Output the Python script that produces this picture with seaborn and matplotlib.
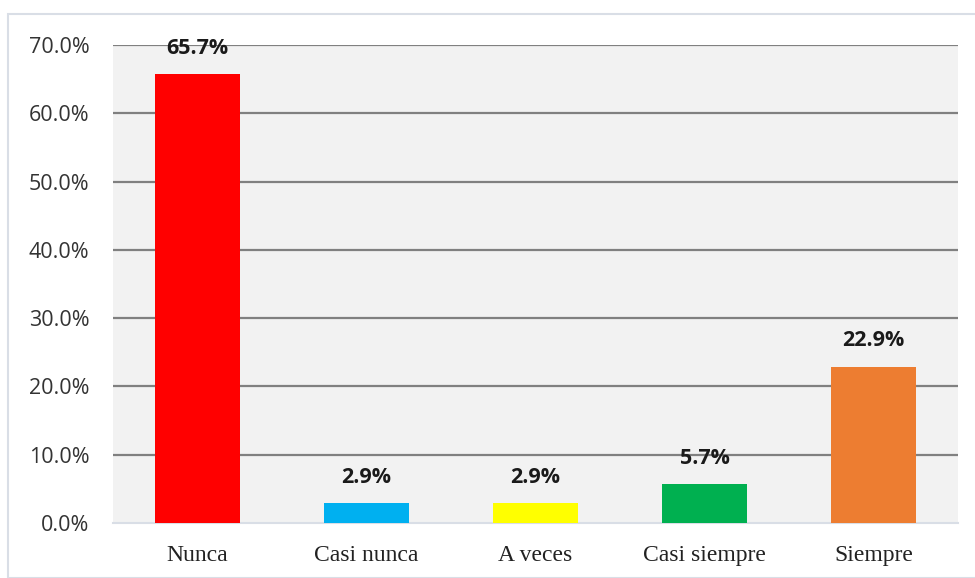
import matplotlib
matplotlib.use("Agg")
import matplotlib.pyplot as plt
import seaborn as sns
import pandas as pd
from matplotlib.patches import Rectangle

# datos
categorias = ["Nunca", "Casi nunca", "A veces", "Casi siempre", "Siempre"]
porcentajes = [0.657, 0.029, 0.029, 0.057, 0.229]
etiquetas = ["65.7%", "2.9%", "2.9%", "5.7%", "22.9%"]
colores = ["#FF0000", "#00B0F0", "#FFFF00", "#00B050", "#ED7D31"]
ticks_y = [0.0, 0.1, 0.2, 0.3, 0.4, 0.5, 0.6, 0.7]

df = pd.DataFrame({"cat": categorias, "pct": porcentajes})

sns.set_style("white")
fig = plt.figure(figsize=(9.75, 5.78), dpi=100)
# marco exterior (detras de los ejes)
marco = Rectangle((8 / 975, 0), 1, 1 - 14 / 578, transform=fig.transFigure,
                  facecolor="white", edgecolor="#D9DEE6", linewidth=1.5, zorder=-5)
fig.add_artist(marco)
ax = fig.add_axes([113 / 975, 1 - 523 / 578, 845 / 975, 478 / 578])
ax.set_facecolor("#F2F2F2")

sns.barplot(data=df, x="cat", y="pct", hue="cat", palette=colores, legend=False,
            width=0.5, ax=ax, zorder=3, saturation=1, linewidth=0)

for i, (v, t) in enumerate(zip(porcentajes, etiquetas)):
    ax.annotate(t, (i, v), xytext=(0, 18.5), textcoords="offset points", ha="center",
                va="center", fontsize=15.5, fontweight="bold", family="Open Sans", color="#1a1a1a",
                zorder=5)

ax.set_ylim(0, 0.7)
ax.set_xlim(-0.5, 4.5)
ax.set_yticks(ticks_y)
ax.set_yticklabels([f"{t * 100:.1f}%" for t in ticks_y], family="Open Sans", fontsize=15.5,
                   color="#333333")
ax.set_xticks(range(len(categorias)))
ax.set_xticklabels(categorias, family="Liberation Serif", fontsize=17, color="#222222")
ax.tick_params(axis="x", length=0, pad=16)
ax.tick_params(axis="y", length=0, pad=17)
for y in ticks_y[1:]:
    ax.axhline(y, color="#808080", linewidth=1.6, zorder=1)
ax.set_xlabel("")
ax.set_ylabel("")
for s in ["top", "left", "right"]:
    ax.spines[s].set_visible(False)
ax.spines["bottom"].set_color("#D9DEE6")
ax.spines["bottom"].set_linewidth(1.5)

fig.savefig("out.png", dpi=100)
